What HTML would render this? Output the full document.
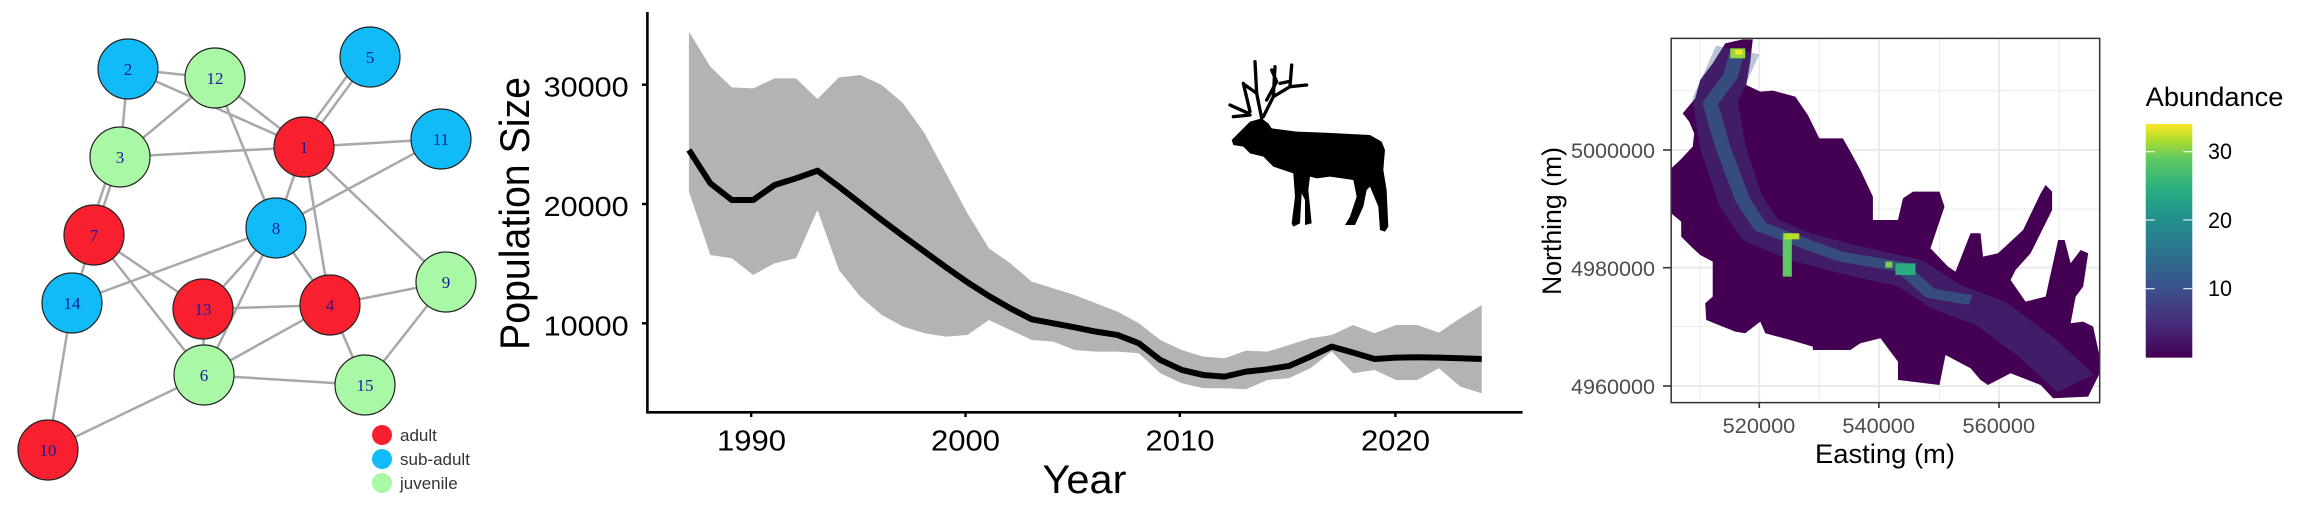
<!DOCTYPE html>
<html><head><meta charset="utf-8"><style>html,body{margin:0;padding:0;background:#fff}svg{display:block}</style></head>
<body>
<svg width="2315" height="530" viewBox="0 0 2315 530" xmlns="http://www.w3.org/2000/svg">
<rect width="2315" height="530" fill="#fff"/>
<!-- Network -->
<g stroke="#a8a8a8" stroke-width="2.5" fill="none">
<line x1="128" y1="69" x2="215" y2="78"/><line x1="128" y1="69" x2="304" y2="147"/><line x1="128" y1="69" x2="120" y2="157"/>
<line x1="215" y1="78" x2="120" y2="157"/><line x1="215" y1="78" x2="304" y2="147"/><line x1="215" y1="78" x2="276" y2="228"/>
<line x1="370" y1="57" x2="304" y2="147"/><line x1="364" y1="53" x2="298" y2="143"/>
<line x1="304" y1="147" x2="441" y2="139"/><line x1="304" y1="147" x2="120" y2="157"/><line x1="304" y1="147" x2="276" y2="228"/>
<line x1="304" y1="147" x2="330" y2="305"/><line x1="304" y1="147" x2="446" y2="282"/><line x1="441" y1="139" x2="276" y2="228"/>
<line x1="120" y1="157" x2="94" y2="235"/><line x1="114" y1="157" x2="88" y2="235"/>
<line x1="94" y1="235" x2="72" y2="303"/><line x1="94" y1="235" x2="203" y2="309"/><line x1="94" y1="235" x2="204" y2="375"/>
<line x1="276" y1="228" x2="72" y2="303"/><line x1="276" y1="228" x2="203" y2="309"/><line x1="276" y1="228" x2="204" y2="375"/><line x1="276" y1="228" x2="330" y2="305"/>
<line x1="203" y1="309" x2="330" y2="305"/><line x1="203" y1="309" x2="204" y2="375"/>
<line x1="330" y1="305" x2="446" y2="282"/><line x1="330" y1="305" x2="204" y2="375"/><line x1="330" y1="305" x2="365" y2="385"/>
<line x1="446" y1="282" x2="365" y2="385"/><line x1="204" y1="375" x2="365" y2="385"/><line x1="204" y1="375" x2="48" y2="450"/><line x1="72" y1="303" x2="48" y2="450"/>
</g>
<g stroke="#222" stroke-width="1.2">
<circle cx="128" cy="69" r="30" fill="#11bbf7"/><circle cx="215" cy="78" r="30" fill="#a8f8a6"/>
<circle cx="370" cy="57" r="30" fill="#11bbf7"/><circle cx="304" cy="147" r="30" fill="#f8202f"/>
<circle cx="441" cy="139" r="30" fill="#11bbf7"/><circle cx="120" cy="157" r="30" fill="#a8f8a6"/>
<circle cx="94" cy="235" r="30" fill="#f8202f"/><circle cx="276" cy="228" r="30" fill="#11bbf7"/>
<circle cx="72" cy="303" r="30" fill="#11bbf7"/><circle cx="203" cy="309" r="30" fill="#f8202f"/>
<circle cx="330" cy="305" r="30" fill="#f8202f"/><circle cx="446" cy="282" r="30" fill="#a8f8a6"/>
<circle cx="204" cy="375" r="30" fill="#a8f8a6"/><circle cx="365" cy="385" r="30" fill="#a8f8a6"/>
<circle cx="48" cy="450" r="30" fill="#f8202f"/>
</g>
<g font-family="Liberation Serif, serif" font-size="17" fill="#1a1aa0" text-anchor="middle">
<text x="128" y="75">2</text><text x="215" y="84">12</text><text x="370" y="63">5</text><text x="304" y="153">1</text>
<text x="441" y="145">11</text><text x="120" y="163">3</text><text x="94" y="241">7</text><text x="276" y="234">8</text>
<text x="72" y="309">14</text><text x="203" y="315">13</text><text x="330" y="311">4</text><text x="446" y="288">9</text>
<text x="204" y="381">6</text><text x="365" y="391">15</text><text x="48" y="456">10</text>
</g>
<circle cx="382" cy="435" r="10" fill="#f8202f"/><circle cx="382" cy="459" r="10" fill="#11bbf7"/><circle cx="382" cy="483" r="10" fill="#a8f8a6"/>
<g font-family="Liberation Sans, sans-serif" font-size="17" fill="#333">
<text x="400" y="441">adult</text><text x="400" y="465">sub-adult</text><text x="400" y="489">juvenile</text>
</g>
<rect x="480" y="440" width="8" height="60" fill="#fff"/>

<!-- Population chart -->
<g transform="translate(480,0) scale(0.6696,0.3333)">
<path fill="#b3b3b3" d="M312,95 L344,200 L376,262 L408,265 L440,235 L472,235 L504,297 L536,232 L568,225 L600,255 L632,310 L664,400 L696,520 L728,640 L760,745 L792,790 L824,845 L888,885 L952,935 L984,970 L1016,1020 L1048,1050 L1080,1070 L1112,1075 L1144,1052 L1176,1055 L1208,1035 L1240,1015 L1272,1005 L1304,975 L1336,1000 L1368,975 L1400,975 L1432,998 L1464,955 L1496,915 L1496,1180 L1464,1160 L1432,1105 L1400,1140 L1368,1140 L1336,1110 L1304,1120 L1272,1055 L1240,1105 L1208,1135 L1176,1140 L1144,1168 L1112,1165 L1080,1165 L1048,1150 L1016,1120 L984,1060 L952,1055 L920,1055 L888,1050 L856,1025 L824,1020 L792,990 L760,960 L728,1005 L696,1010 L664,1000 L632,980 L600,945 L568,890 L536,810 L504,630 L472,775 L440,790 L408,825 L376,775 L344,765 L312,575 Z"/>
</g>
<g transform="translate(480,0) scale(0.6696,0.3333)">
<polyline fill="none" stroke="#000" stroke-width="6" vector-effect="non-scaling-stroke" stroke-linejoin="round" points="312,450 344,550 376,600 408,600 440,555 472,535 504,512 536,560 568,610 600,660 632,708 664,755 696,802 728,847 760,888 792,925 824,958 856,970 888,982 920,995 952,1005 984,1030 1016,1080 1048,1110 1080,1125 1112,1130 1144,1115 1176,1108 1208,1098 1240,1070 1272,1040 1304,1058 1336,1077 1368,1073 1400,1072 1432,1073 1464,1075 1496,1077"/>
</g>
<path fill="none" stroke="#000" stroke-width="2.6" d="M647.4,12 V412.3 H1522.6"/>
<g stroke="#000" stroke-width="2.4">
<line x1="642" y1="84.7" x2="647" y2="84.7"/><line x1="642" y1="204" x2="647" y2="204"/><line x1="642" y1="323.3" x2="647" y2="323.3"/>
<line x1="751.2" y1="412" x2="751.2" y2="417"/><line x1="965.5" y1="412" x2="965.5" y2="417"/><line x1="1179.8" y1="412" x2="1179.8" y2="417"/><line x1="1395.4" y1="412" x2="1395.4" y2="417"/>
</g>
<g font-family="Liberation Sans, sans-serif" font-size="28" fill="#000">
<text x="543.6" y="96.7" textLength="85" lengthAdjust="spacingAndGlyphs">30000</text>
<text x="543.6" y="216" textLength="85" lengthAdjust="spacingAndGlyphs">20000</text>
<text x="543.6" y="335.3" textLength="85" lengthAdjust="spacingAndGlyphs">10000</text>
<text x="717" y="450.7" font-size="29" textLength="69" lengthAdjust="spacingAndGlyphs">1990</text>
<text x="931" y="450.7" font-size="29" textLength="69" lengthAdjust="spacingAndGlyphs">2000</text>
<text x="1145.5" y="450.7" font-size="29" textLength="69" lengthAdjust="spacingAndGlyphs">2010</text>
<text x="1361" y="450.7" font-size="29" textLength="69" lengthAdjust="spacingAndGlyphs">2020</text>
<text x="1042.5" y="493" font-size="40" textLength="84" lengthAdjust="spacingAndGlyphs">Year</text>
<text transform="translate(529,350) rotate(-90)" font-size="42" textLength="273" lengthAdjust="spacingAndGlyphs">Population Size</text>
</g>
<!-- Elk -->
<g transform="translate(1230,50) scale(0.3333)">
<path fill="#000" d="M5,270 L30,245 L60,215 L95,205 L115,220 L125,235 L200,245 L280,248 L420,255 L455,275 L465,300 L460,360 L470,420 L475,530 L465,545 L450,540 L445,470 L420,410 L410,420 L400,470 L375,525 L345,525 L360,500 L380,440 L370,390 L300,380 L260,385 L240,380 L235,420 L245,520 L225,525 L225,450 L215,430 L210,520 L190,530 L185,520 L195,440 L190,370 L130,350 L100,320 L60,310 L40,290 L10,285 Z"/>
<path fill="none" stroke="#000" stroke-width="10" stroke-linecap="round" d="M95,205 L80,130 L75,35 M80,130 L45,105 M60,185 L40,100 M55,190 L0,165 M60,195 L10,200 M100,200 L130,140 L135,50 M130,140 L180,110 L185,45 M180,110 L230,105 M110,150 L140,95 L125,60 M150,100 L175,95"/>
</g>

<!-- Abundance map -->
<g transform="translate(1530,0) scale(0.5006,0.3333)">
<rect x="282" y="115" width="856" height="1093" fill="#fff"/>
<g stroke="#ebebeb" stroke-width="1" vector-effect="non-scaling-stroke">
<line x1="340" y1="115" x2="340" y2="1208" vector-effect="non-scaling-stroke"/><line x1="578" y1="115" x2="578" y2="1208" vector-effect="non-scaling-stroke"/><line x1="818" y1="115" x2="818" y2="1208" vector-effect="non-scaling-stroke"/><line x1="1057" y1="115" x2="1057" y2="1208" vector-effect="non-scaling-stroke"/>
<line x1="282" y1="272" x2="1138" y2="272" vector-effect="non-scaling-stroke"/><line x1="282" y1="627" x2="1138" y2="627" vector-effect="non-scaling-stroke"/><line x1="282" y1="980" x2="1138" y2="980" vector-effect="non-scaling-stroke"/>
</g>
<g stroke="#ebebeb" stroke-width="2">
<line x1="458" y1="115" x2="458" y2="1208" vector-effect="non-scaling-stroke"/><line x1="697" y1="115" x2="697" y2="1208" vector-effect="non-scaling-stroke"/><line x1="937" y1="115" x2="937" y2="1208" vector-effect="non-scaling-stroke"/>
<line x1="282" y1="450" x2="1138" y2="450" vector-effect="non-scaling-stroke"/><line x1="282" y1="803" x2="1138" y2="803" vector-effect="non-scaling-stroke"/><line x1="282" y1="1158" x2="1138" y2="1158" vector-effect="non-scaling-stroke"/>
</g>
<path fill="#440154" d="M425,118 L445,118 L440,185 L432,255 L460,275 L485,272 L530,290 L555,345 L578,415 L625,415 L640,455 L660,510 L685,590 L685,660 L735,660 L745,595 L765,575 L818,575 L828,620 L800,745 L835,800 L850,815 L880,700 L900,700 L905,770 L935,760 L985,690 L1020,580 L1030,555 L1043,575 L1043,630 L1000,760 L970,810 L960,840 L990,905 L1030,890 L1055,720 L1068,720 L1080,790 L1100,750 L1115,760 L1105,860 L1090,890 L1080,970 L1105,965 L1125,980 L1138,1070 L1138,1120 L1115,1190 L1045,1195 L1020,1155 L960,1120 L915,1155 L900,1140 L880,1105 L830,1065 L818,1155 L735,1140 L735,1085 L700,1015 L660,1030 L640,1050 L565,1050 L565,1040 L520,1020 L470,1000 L460,965 L430,1000 L410,995 L385,980 L352,960 L350,910 L365,890 L365,785 L340,765 L322,740 L302,710 L302,665 L282,640 L282,505 L300,480 L325,440 L328,400 L318,365 L305,340 L330,295 L340,240 L365,190 L390,130 Z"/>
<polyline fill="none" stroke="#3b528b" stroke-width="90" stroke-opacity="0.35" stroke-linejoin="round" points="415,150 370,300 385,440 420,600 460,690 540,740 640,780 760,820 830,890 920,940 1010,1040 1090,1150"/>
<polyline fill="none" stroke="#2c728e" stroke-width="30" stroke-opacity="0.55" stroke-linejoin="round" points="415,150 400,230 360,310 385,440 425,600 460,680 530,720 620,770 740,800 800,880 880,900"/>
<rect x="400" y="145" width="30" height="30" fill="#95d840"/><rect x="410" y="150" width="14" height="14" fill="#fde725"/>
<rect x="505" y="700" width="18" height="130" fill="#5ec962"/><rect x="508" y="700" width="30" height="18" fill="#b8de29"/>
<rect x="710" y="785" width="14" height="18" fill="#7ad151"/><rect x="730" y="790" width="40" height="35" fill="#28ae80"/>
<rect x="282" y="115" width="856" height="1093" fill="none" stroke="#333" stroke-width="1.5" vector-effect="non-scaling-stroke"/>
<defs><linearGradient id="vir" x1="0" y1="1" x2="0" y2="0">
<stop offset="0" stop-color="#440154"/><stop offset="0.15" stop-color="#472d7b"/><stop offset="0.3" stop-color="#3b528b"/><stop offset="0.45" stop-color="#2c728e"/><stop offset="0.6" stop-color="#21918c"/><stop offset="0.72" stop-color="#28ae80"/><stop offset="0.85" stop-color="#5ec962"/><stop offset="0.93" stop-color="#addc30"/><stop offset="1" stop-color="#fde725"/>
</linearGradient></defs>
<rect x="1230" y="372" width="93" height="701" fill="url(#vir)"/>
<g stroke="#fff" stroke-width="1.3" stroke-opacity="0.8">
<line x1="1230" y1="455" x2="1248" y2="455" vector-effect="non-scaling-stroke"/><line x1="1305" y1="455" x2="1323" y2="455" vector-effect="non-scaling-stroke"/>
<line x1="1230" y1="660" x2="1248" y2="660" vector-effect="non-scaling-stroke"/><line x1="1305" y1="660" x2="1323" y2="660" vector-effect="non-scaling-stroke"/>
<line x1="1230" y1="866" x2="1248" y2="866" vector-effect="non-scaling-stroke"/><line x1="1305" y1="866" x2="1323" y2="866" vector-effect="non-scaling-stroke"/>
</g>
</g>
<g stroke="#333" stroke-width="1.6">
<line x1="1663" y1="150" x2="1671" y2="150"/><line x1="1663" y1="267.7" x2="1671" y2="267.7"/><line x1="1663" y1="386" x2="1671" y2="386"/>
<line x1="1759.3" y1="402.7" x2="1759.3" y2="408"/><line x1="1878.9" y1="402.7" x2="1878.9" y2="408"/><line x1="1999" y1="402.7" x2="1999" y2="408"/>
</g>
<g font-family="Liberation Sans, sans-serif" font-size="21" fill="#4d4d4d">
<text x="1571" y="158" textLength="84" lengthAdjust="spacingAndGlyphs">5000000</text>
<text x="1571" y="276" textLength="84" lengthAdjust="spacingAndGlyphs">4980000</text>
<text x="1571" y="394" textLength="84" lengthAdjust="spacingAndGlyphs">4960000</text>
<text x="1722.7" y="433" textLength="72.6" lengthAdjust="spacingAndGlyphs">520000</text>
<text x="1842.4" y="433" textLength="72.6" lengthAdjust="spacingAndGlyphs">540000</text>
<text x="1962.5" y="433" textLength="72.6" lengthAdjust="spacingAndGlyphs">560000</text>
</g>
<g font-family="Liberation Sans, sans-serif" font-size="27" fill="#000">
<text x="1815" y="463" textLength="140" lengthAdjust="spacingAndGlyphs">Easting (m)</text>
<text transform="translate(1561,295) rotate(-90)" textLength="148" lengthAdjust="spacingAndGlyphs">Northing (m)</text>
<text x="2145.7" y="106" textLength="137.7" lengthAdjust="spacingAndGlyphs">Abundance</text>
</g>
<g font-family="Liberation Sans, sans-serif" font-size="22" fill="#000">
<text x="2208" y="159" textLength="24" lengthAdjust="spacingAndGlyphs">30</text>
<text x="2208" y="228" textLength="24" lengthAdjust="spacingAndGlyphs">20</text>
<text x="2208" y="296" textLength="24" lengthAdjust="spacingAndGlyphs">10</text>
</g>
</svg>
</body></html>
